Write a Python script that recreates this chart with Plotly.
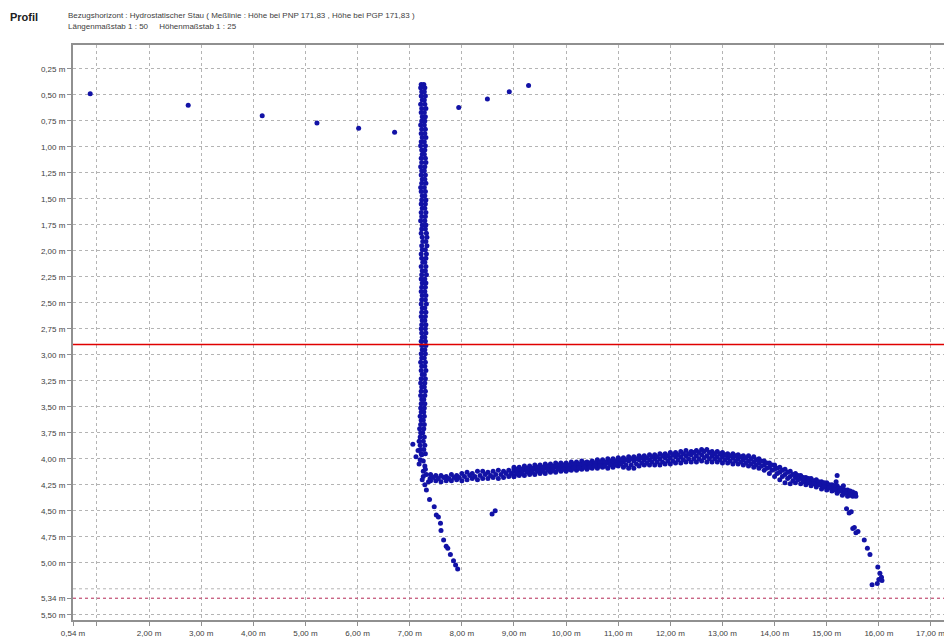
import plotly.graph_objects as go

# ---------------- data ----------------
top_x = [0.87, 2.75, 4.17, 5.22, 6.02, 6.71, 7.94, 8.49, 8.91, 9.28]
top_y = [0.49, 0.60, 0.70, 0.77, 0.82, 0.86, 0.62, 0.54, 0.47, 0.41]

col_y = [0.40, 0.43, 0.47, 0.51, 0.55, 0.59, 0.63, 0.67, 0.71, 0.75,
         0.79, 0.83, 0.87, 0.91, 0.95, 0.99, 1.03, 1.07, 1.11, 1.15,
         1.19, 1.23, 1.27, 1.31, 1.35, 1.39, 1.43, 1.47, 1.51, 1.55,
         1.59, 1.63, 1.67, 1.71, 1.75, 1.79, 1.83, 1.87, 1.91, 1.95,
         1.99, 2.03, 2.07, 2.11, 2.15, 2.19, 2.23, 2.27, 2.31, 2.35,
         2.39, 2.43, 2.47, 2.51, 2.55, 2.59, 2.63, 2.67, 2.71, 2.75,
         2.79, 2.83, 2.87, 2.91, 2.95, 2.99, 3.03, 3.07, 3.11, 3.15,
         3.19, 3.23, 3.27, 3.31, 3.35, 3.39, 3.43, 3.47, 3.51, 3.55,
         3.59, 3.63, 3.67, 3.71, 3.75, 3.79, 3.83, 3.87, 3.91, 3.95]
col_xa = [7.22, 7.21, 7.23, 7.22, 7.24, 7.21, 7.23, 7.22, 7.24, 7.23,
          7.21, 7.23, 7.22, 7.24, 7.22, 7.21, 7.23, 7.24, 7.22, 7.23,
          7.21, 7.23, 7.22, 7.24, 7.23, 7.21, 7.22, 7.24, 7.23, 7.22,
          7.24, 7.22, 7.23, 7.21, 7.24, 7.23, 7.22, 7.24, 7.25, 7.23,
          7.24, 7.22, 7.23, 7.25, 7.22, 7.24, 7.23, 7.22, 7.24, 7.23,
          7.22, 7.24, 7.23, 7.22, 7.24, 7.23, 7.22, 7.24, 7.23, 7.22,
          7.23, 7.24, 7.22, 7.23, 7.24, 7.22, 7.23, 7.21, 7.23, 7.22,
          7.24, 7.22, 7.21, 7.23, 7.22, 7.21, 7.23, 7.22, 7.21, 7.22,
          7.20, 7.22, 7.21, 7.19, 7.21, 7.20, 7.18, 7.20, 7.21, 7.22]
col_xb = [7.27, 7.29, 7.28, 7.30, 7.28, 7.29, 7.31, 7.28, 7.30, 7.29,
          7.28, 7.30, 7.29, 7.31, 7.28, 7.30, 7.29, 7.28, 7.30, 7.31,
          7.29, 7.28, 7.30, 7.29, 7.31, 7.28, 7.30, 7.29, 7.31, 7.30,
          7.29, 7.31, 7.30, 7.29, 7.31, 7.30, 7.32, 7.33, 7.31, 7.33,
          7.30, 7.32, 7.31, 7.29, 7.31, 7.30, 7.32, 7.29, 7.31, 7.30,
          7.29, 7.31, 7.30, 7.32, 7.29, 7.31, 7.30, 7.29, 7.31, 7.30,
          7.31, 7.29, 7.30, 7.31, 7.29, 7.30, 7.28, 7.30, 7.29, 7.31,
          7.28, 7.30, 7.29, 7.28, 7.30, 7.29, 7.27, 7.29, 7.28, 7.27,
          7.28, 7.26, 7.28, 7.27, 7.25, 7.28, 7.26, 7.29, 7.27, 7.30]

base_x = [7.06, 7.16, 7.23, 7.20, 7.26, 7.29, 7.26, 7.32, 7.26, 7.39, 7.36, 7.29, 7.12, 7.18, 7.30, 7.24]
base_y = [3.86, 3.92, 3.96, 4.01, 4.02, 4.07, 4.12, 4.15, 4.17, 4.19, 4.22, 4.25, 3.98, 4.05, 4.10, 4.20]

slope_x = [7.32, 7.38, 7.47, 7.51, 7.55, 7.59, 7.60, 7.65, 7.70, 7.73, 7.78, 7.84, 7.88, 7.92]
slope_y = [4.30, 4.39, 4.46, 4.54, 4.56, 4.62, 4.69, 4.78, 4.84, 4.86, 4.92, 4.98, 5.02, 5.06]

iso_x = [8.58, 8.64]
iso_y = [4.53, 4.50]

seg1_x = [7.40, 7.50, 7.60, 7.70, 7.80, 7.90, 8.00, 8.10, 8.20, 8.30, 8.40, 8.50, 8.60, 8.70, 8.80, 8.90, 9.00]
seg1_top = [4.15, 4.16, 4.16, 4.17, 4.15, 4.16, 4.14, 4.13, 4.14, 4.12, 4.12, 4.13, 4.12, 4.11, 4.12, 4.11, 4.10]
seg1_bot = [4.21, 4.21, 4.22, 4.21, 4.21, 4.20, 4.21, 4.20, 4.19, 4.20, 4.19, 4.19, 4.18, 4.19, 4.18, 4.17, 4.17]
seg1_mid_x = [7.45, 7.55, 7.65, 7.75, 7.85, 7.95, 8.05, 8.15, 8.25, 8.35, 8.45, 8.55, 8.65, 8.75, 8.85, 8.95]
seg1_mid_y = [4.18, 4.19, 4.18, 4.19, 4.18, 4.18, 4.17, 4.16, 4.17, 4.16, 4.15, 4.16, 4.15, 4.15, 4.14, 4.14]

band_x = [9.0, 9.1, 9.2, 9.3, 9.4, 9.5, 9.6, 9.7, 9.8, 9.9,
          10.0, 10.1, 10.2, 10.3, 10.4, 10.5, 10.6, 10.7, 10.8, 10.9,
          11.0, 11.1, 11.2, 11.3, 11.4, 11.5, 11.6, 11.7, 11.8, 11.9,
          12.0, 12.1, 12.2, 12.3, 12.4, 12.5, 12.6, 12.7, 12.8, 12.9,
          13.0, 13.1, 13.2, 13.3, 13.4, 13.5, 13.6, 13.7, 13.8, 13.9,
          14.0, 14.1, 14.2, 14.3, 14.4, 14.5, 14.6, 14.7, 14.8, 14.9,
          15.0, 15.1, 15.2, 15.3, 15.4, 15.5]
band_top = [4.08, 4.08, 4.07, 4.07, 4.06, 4.06, 4.05, 4.05, 4.04, 4.04,
            4.04, 4.03, 4.03, 4.02, 4.03, 4.02, 4.01, 4.01, 4.00, 4.00,
            3.99, 3.99, 3.98, 3.98, 3.97, 3.97, 3.96, 3.96, 3.95, 3.95,
            3.94, 3.94, 3.93, 3.92, 3.93, 3.92, 3.91, 3.91, 3.93, 3.93,
            3.94, 3.95, 3.95, 3.96, 3.97, 3.97, 3.98, 4.00, 4.02, 4.04,
            4.06, 4.08, 4.10, 4.12, 4.14, 4.16, 4.18, 4.19, 4.20, 4.22,
            4.23, 4.25, 4.26, 4.28, 4.30, 4.32]
band_mid = [4.12, 4.12, 4.11, 4.11, 4.10, 4.10, 4.09, 4.09, 4.08, 4.08,
            4.08, 4.07, 4.07, 4.06, 4.06, 4.05, 4.05, 4.05, 4.04, 4.04,
            4.03, 4.03, 4.02, 4.02, 4.01, 4.01, 4.01, 4.00, 4.00, 3.99,
            3.99, 3.98, 3.98, 3.97, 3.96, 3.97, 3.96, 3.97, 3.97, 3.98,
            3.98, 3.99, 3.99, 4.00, 4.01, 4.02, 4.03, 4.04, 4.06, 4.08,
            4.10, 4.13, 4.15, 4.17, 4.18, 4.19, 4.21, 4.22, 4.23, 4.25,
            4.26, 4.28, 4.29, 4.31, 4.33, 4.34]
band_bot = [4.17, 4.16, 4.16, 4.15, 4.15, 4.14, 4.14, 4.13, 4.13, 4.12,
            4.12, 4.11, 4.11, 4.10, 4.10, 4.09, 4.09, 4.08, 4.09, 4.08,
            4.07, 4.08, 4.09, 4.09, 4.07, 4.06, 4.06, 4.06, 4.06, 4.05,
            4.05, 4.04, 4.04, 4.03, 4.03, 4.03, 4.02, 4.03, 4.03, 4.03,
            4.04, 4.04, 4.05, 4.05, 4.06, 4.07, 4.08, 4.09, 4.11, 4.14,
            4.17, 4.20, 4.23, 4.24, 4.23, 4.24, 4.25, 4.26, 4.27, 4.29,
            4.30, 4.31, 4.33, 4.35, 4.36, 4.36]

band_x2 = [9.05, 9.15, 9.25, 9.35, 9.45, 9.55, 9.65, 9.75, 9.85, 9.95,
           10.05, 10.15, 10.25, 10.35, 10.45, 10.55, 10.65, 10.75, 10.85, 10.95,
           11.05, 11.15, 11.25, 11.35, 11.45, 11.55, 11.65, 11.75, 11.85, 11.95,
           12.05, 12.15, 12.25, 12.35, 12.45, 12.55, 12.65, 12.75, 12.85, 12.95,
           13.05, 13.15, 13.25, 13.35, 13.45, 13.55, 13.65, 13.75, 13.85, 13.95,
           14.05, 14.15, 14.25, 14.35, 14.45, 14.55, 14.65, 14.75, 14.85, 14.95,
           15.05, 15.15, 15.25, 15.35, 15.45, 15.55]
band_q1 = [4.10, 4.10, 4.09, 4.09, 4.08, 4.08, 4.07, 4.07, 4.06, 4.06,
           4.06, 4.05, 4.05, 4.04, 4.04, 4.04, 4.03, 4.03, 4.02, 4.02,
           4.01, 4.01, 4.00, 4.00, 3.99, 3.99, 3.98, 3.98, 3.97, 3.97,
           3.96, 3.96, 3.95, 3.95, 3.94, 3.94, 3.93, 3.94, 3.95, 3.95,
           3.96, 3.97, 3.97, 3.98, 3.99, 4.00, 4.01, 4.02, 4.04, 4.06,
           4.09, 4.11, 4.13, 4.15, 4.16, 4.18, 4.19, 4.21, 4.22, 4.23,
           4.25, 4.26, 4.28, 4.30, 4.31, 4.33]
band_q3 = [4.14, 4.14, 4.13, 4.13, 4.12, 4.12, 4.11, 4.11, 4.10, 4.10,
           4.10, 4.09, 4.09, 4.08, 4.08, 4.07, 4.07, 4.07, 4.06, 4.06,
           4.05, 4.06, 4.06, 4.05, 4.04, 4.04, 4.03, 4.03, 4.03, 4.02,
           4.02, 4.01, 4.01, 4.00, 4.00, 4.00, 3.99, 4.00, 4.00, 4.01,
           4.01, 4.02, 4.02, 4.03, 4.04, 4.05, 4.06, 4.07, 4.09, 4.11,
           4.14, 4.17, 4.19, 4.21, 4.20, 4.22, 4.23, 4.24, 4.25, 4.27,
           4.28, 4.30, 4.31, 4.33, 4.35, 4.35]

drop_x = [15.20, 15.18, 15.32, 15.56, 15.38, 15.43, 15.47, 15.50, 15.53, 15.56, 15.60,
          15.72, 15.78, 15.83, 15.98, 16.02, 16.05, 16.06, 16.00, 15.87, 15.97]
drop_y = [4.16, 4.22, 4.26, 4.36, 4.48, 4.52, 4.51, 4.67, 4.66, 4.71, 4.70,
          4.78, 4.86, 4.92, 5.04, 5.10, 5.14, 5.17, 5.16, 5.21, 5.20]

water_level = 2.90
bottom_level = 5.34

x_ticks = [0.54, 1, 2, 3, 4, 5, 6, 7, 8, 9, 10, 11, 12, 13, 14, 15, 16, 17]
x_labels = ["0,54 m", "", "2,00 m", "3,00 m", "4,00 m", "5,00 m", "6,00 m", "7,00 m", "8,00 m",
            "9,00 m", "10,00 m", "11,00 m", "12,00 m", "13,00 m", "14,00 m", "15,00 m",
            "16,00 m", "17,00 m"]
y_ticks = [0.25, 0.50, 0.75, 1.00, 1.25, 1.50, 1.75, 2.00, 2.25, 2.50, 2.75, 3.00,
           3.25, 3.50, 3.75, 4.00, 4.25, 4.50, 4.75, 5.00, 5.34, 5.50]
y_labels = ["0,25 m", "0,50 m", "0,75 m", "1,00 m", "1,25 m", "1,50 m", "1,75 m", "2,00 m",
            "2,25 m", "2,50 m", "2,75 m", "3,00 m", "3,25 m", "3,50 m", "3,75 m", "4,00 m",
            "4,25 m", "4,50 m", "4,75 m", "5,00 m", "5,34 m", "5,50 m"]
extra_grid_y = [5.25]

# ---------------- figure ----------------
all_x = (top_x + col_xa + col_xb + base_x + slope_x + iso_x + seg1_x + seg1_x + seg1_mid_x
         + band_x + band_x + band_x + band_x2 + band_x2 + drop_x)
all_y = (top_y + col_y + col_y + base_y + slope_y + iso_y + seg1_top + seg1_bot + seg1_mid_y
         + band_top + band_mid + band_bot + band_q1 + band_q3 + drop_y)

fig = go.Figure()
fig.add_trace(go.Scatter(x=all_x, y=all_y, mode="markers",
                         marker=dict(color="#1212a6", size=5, line=dict(width=0)),
                         hoverinfo="x+y", showlegend=False))

fig.add_hline(y=water_level, line=dict(color="#e00000", width=1.5))
fig.add_hline(y=bottom_level, line=dict(color="#d04070", width=1, dash="dot"))
for gy in extra_grid_y:
    fig.add_hline(y=gy, line=dict(color="#b4b4b4", width=1, dash="dot"), layer="below")

axis_font = dict(family="Liberation Sans, Arial, sans-serif", size=8, color="#404040")
fig.update_xaxes(range=[0.54, 17.25], tickvals=x_ticks, ticktext=x_labels,
                 showgrid=True, gridcolor="#b4b4b4", griddash="dot", gridwidth=1,
                 showline=True, linecolor="#909090", linewidth=2, mirror=True,
                 ticks="outside", ticklen=4, tickcolor="#909090", tickfont=axis_font,
                 zeroline=False)
fig.update_yaxes(range=[5.55, 0.02], tickvals=y_ticks, ticktext=y_labels,
                 showgrid=True, gridcolor="#b4b4b4", griddash="dot", gridwidth=1,
                 showline=True, linecolor="#909090", linewidth=2,
                 ticks="outside", ticklen=4, tickcolor="#909090", tickfont=axis_font,
                 zeroline=False)

W, H = 944, 638
L, R, T, B = 73, 0, 45, 15
pw, ph = W - L - R, H - T - B


def px(xp):
    return (xp - L) / pw


def py(yp):
    return (H - B - yp) / ph


head_font = "Liberation Sans, Arial, sans-serif"
fig.add_annotation(text="<b>Profil</b>", x=px(8), y=py(17), xref="paper", yref="paper",
                   xanchor="left", yanchor="middle", showarrow=False,
                   font=dict(family=head_font, size=11, color="#202020"))
fig.add_annotation(text="Bezugshorizont : Hydrostatischer Stau ( Meßlinie : Höhe bei PNP 171,83 , Höhe bei PGP 171,83 )",
                   x=px(66), y=py(15), xref="paper", yref="paper",
                   xanchor="left", yanchor="middle", showarrow=False,
                   font=dict(family=head_font, size=8, color="#404040"))
fig.add_annotation(text="Längenmaßstab 1 : 50&nbsp;&nbsp;&nbsp;&nbsp;&nbsp;Höhenmaßstab 1 : 25",
                   x=px(66), y=py(26), xref="paper", yref="paper",
                   xanchor="left", yanchor="middle", showarrow=False,
                   font=dict(family=head_font, size=8, color="#404040"))
# last x label that runs past the window edge (plotly drops it automatically)
fig.add_annotation(text=x_labels[-1], x=x_ticks[-1], y=py(637), xref="x", yref="paper",
                   xanchor="center", yanchor="middle", showarrow=False, font=axis_font)

fig.update_layout(width=W, height=H, margin=dict(l=L, r=R, t=T, b=B),
                  paper_bgcolor="white", plot_bgcolor="white")

fig.write_html("out.html")
